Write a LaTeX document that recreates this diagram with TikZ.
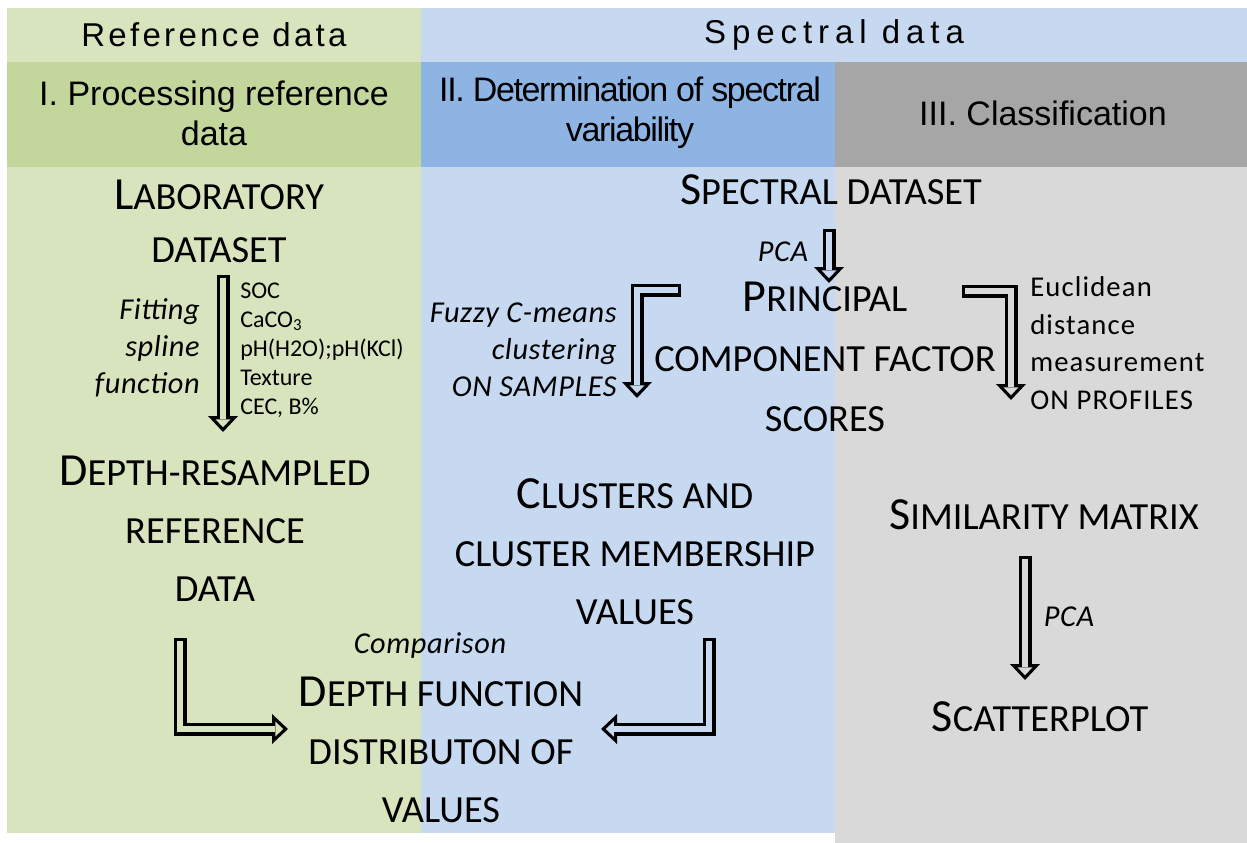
\documentclass[tikz,border=0pt]{standalone}
\usepackage{fontspec}
\setmainfont{Carlito}
\newfontfamily\hdrA[LetterSpace=10]{Liberation Sans}
\newfontfamily\hdrB[LetterSpace=18]{Liberation Sans}
\newfontfamily\hdrC{Liberation Sans}
\newfontfamily\hdrD[LetterSpace=-4]{Liberation Sans}
\newfontfamily\eucl[LetterSpace=4]{Carlito}
\newfontfamily\itl[LetterSpace=2]{Carlito Italic}
\usetikzlibrary{arrows.meta}
\definecolor{glight}{HTML}{D7E4BD}
\definecolor{gmid}{HTML}{C3D69B}
\definecolor{blight}{HTML}{C6D9F1}
\definecolor{bmid}{HTML}{8EB4E3}
\definecolor{graymid}{HTML}{A6A6A6}
\definecolor{graylight}{HTML}{D9D9D9}
\newcommand\Cap[1]{{\fontsize{34.5pt}{0pt}\selectfont #1}}
\newcommand\holarrow[2]{\draw[arrout] #2; \draw[arrin=#1] #2;}
\tikzset{
  hd/.style={inner sep=0pt, align=center},
  bodyt/.style={inner sep=0pt, align=center},
  lbl/.style={inner sep=0pt},
  itlab/.style={inner sep=0pt, font=\itl\fontsize{22.75pt}{27.75pt}\selectfont},
  arrout/.style={line width=9.75pt, black, line join=miter,
    -{Triangle[length=12pt,width=22.5pt,line width=0pt]}},
  arrin/.style={line width=4.875pt, #1, line join=miter,
    shorten >=3.56pt, shorten <=2.44pt,
    -{Triangle[length=6pt,width=11.25pt,line width=0pt]}},
}
\begin{document}
\begin{tikzpicture}[x=0.75pt,y=-0.75pt]
\useasboundingbox (0,0) rectangle (1247,843);
% backgrounds
\fill[glight] (7,8) rectangle (421,62);
\fill[blight] (421,8) rectangle (1247,62);
\fill[gmid] (7,62) rectangle (421,167);
\fill[bmid] (421,62) rectangle (835,167);
\fill[graymid] (835,62) rectangle (1247,167);
\fill[glight] (7,167) rectangle (421,833);
\fill[blight] (421,167) rectangle (835,833);
\fill[graylight] (835,167) rectangle (1247,843);
% headers
\node[hd, font=\hdrA\fontsize{24.75pt}{30pt}\selectfont] (refd) at (214,35) {Reference data};
\node[hd, font=\hdrB\fontsize{24.75pt}{30pt}\selectfont] (specd) at (834,35) {Spectral data};
\node[hd, font=\hdrC\fontsize{25.5pt}{30pt}\selectfont] (h1) at (214,113) {I. Processing reference\\data};
\node[hd, font=\hdrD\fontsize{25.5pt}{30pt}\selectfont] (h2) at (630,113) {II. Determination of spectral\\variability};
\node[hd, font=\hdrC\fontsize{25.5pt}{30pt}\selectfont] (h3) at (1043,113) {III. Classification};
% body nodes
\node[bodyt, font=\fontsize{28.8pt}{39.75pt}\selectfont] (lab) at (219,221) {\Cap{L}ABORATORY\\DATASET};
\node[bodyt, font=\fontsize{28.8pt}{43.5pt}\selectfont] (dep) at (215,529) {\Cap{D}EPTH-RESAMPLED\\REFERENCE\\DATA};
\node[bodyt, font=\fontsize{28.8pt}{43.5pt}\selectfont] (spec) at (831,190) {\Cap{S}PECTRAL DATASET};
\node[bodyt, font=\fontsize{28.8pt}{45pt}\selectfont] (pcs) at (825,357) {\Cap{P}RINCIPAL\\COMPONENT FACTOR\\SCORES};
\node[bodyt, font=\fontsize{28.8pt}{43.5pt}\selectfont] (clu) at (635,552) {\Cap{C}LUSTERS AND\\CLUSTER MEMBERSHIP\\VALUES};
\node[bodyt, font=\fontsize{28.8pt}{43.5pt}\selectfont] (sim) at (1044,515) {\Cap{S}IMILARITY MATRIX};
\node[bodyt, font=\fontsize{28.8pt}{43.5pt}\selectfont] (sca) at (1040,717) {\Cap{S}CATTERPLOT};
\node[bodyt, font=\fontsize{28.8pt}{43.5pt}\selectfont] (dfn) at (441,750) {\Cap{D}EPTH FUNCTION\\DISTRIBUTON OF\\VALUES};
% labels
\node[itlab, anchor=east, align=right] (fit) at (200,348) {Fitting\\spline\\function};
\node[lbl, anchor=west, align=left, font=\fontsize{18pt}{21.75pt}\selectfont] (soc) at (240,350) {SOC\\CaCO\textsubscript{3}\\pH(H2O);pH(KCl)\\Texture\\CEC, B\%};
\node[itlab] (pca1) at (783,252) {PCA};
\node[itlab, anchor=east, align=right] (fuz) at (617,350) {Fuzzy C-means\\clustering\\ON SAMPLES};
\node[lbl, anchor=west, align=left, font=\eucl\fontsize{21.5pt}{28.1pt}\selectfont] (euc) at (1030,343) {Euclidean\\distance\\measurement\\ON PROFILES};
\node[itlab] (cmp) at (430,646) {Comparison};
\node[itlab] (pca2) at (1069,617) {PCA};
% arrow coordinates
\coordinate (a1s) at (223,275); \coordinate (a1e) at (223,432);
\coordinate (a2s) at (829,229); \coordinate (a2e) at (829,283);
\coordinate (a3s) at (681,290); \coordinate (a3c) at (637,290); \coordinate (a3e) at (637,398);
\coordinate (a4s) at (962,291); \coordinate (a4c) at (1011,291); \coordinate (a4e) at (1011,400);
\coordinate (a5s) at (1025,556); \coordinate (a5e) at (1025,680);
\coordinate (a6s) at (180,638); \coordinate (a6c) at (180,729); \coordinate (a6e) at (288,729);
\coordinate (a7s) at (709,638); \coordinate (a7c) at (709,729); \coordinate (a7e) at (601,729);
% arrows
\holarrow{glight}{(a1s) -- (a1e)}
\holarrow{blight}{(a2s) -- (a2e)}
\holarrow{blight}{(a3s) -- (a3c) -- (a3e)}
\holarrow{graylight}{(a4s) -- (a4c) -- (a4e)}
\holarrow{graylight}{(a5s) -- (a5e)}
\holarrow{glight}{(a6s) -- (a6c) -- (a6e)}
\holarrow{blight}{(a7s) -- (a7c) -- (a7e)}
\end{tikzpicture}
\end{document}
